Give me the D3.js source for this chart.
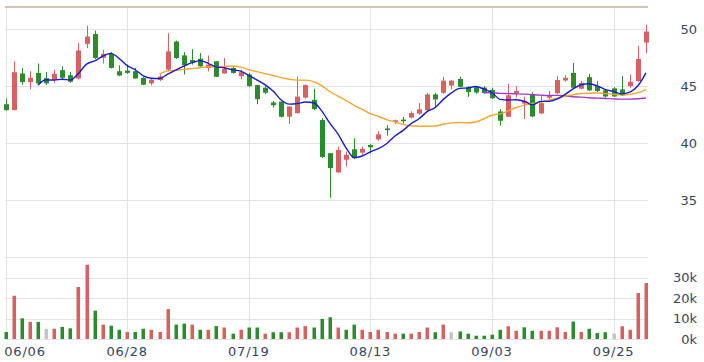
<!DOCTYPE html>
<html>
<head>
<meta charset="utf-8">
<script src="https://cdn.jsdelivr.net/npm/d3@7"></script>
<style>
  body { margin: 0; background: #fff; }
  text { font-family: "DejaVu Sans", sans-serif; }
</style>
</head>
<body>
<div id="chart"></div>
<script>
// trading days (MM/DD)
const dates = [
  "06/06","06/10","06/11","06/12","06/13","06/14","06/17","06/18","06/19","06/20",
  "06/21","06/24","06/25","06/26","06/27","06/28","07/01","07/02","07/03","07/04",
  "07/05","07/08","07/09","07/10","07/11","07/12","07/15","07/16","07/17","07/18",
  "07/19","07/22","07/23","07/24","07/25","07/26","07/29","07/30","07/31","08/01",
  "08/02","08/05","08/06","08/07","08/12","08/13","08/14","08/15","08/16","08/19",
  "08/20","08/21","08/22","08/23","08/26","08/27","08/28","08/29","08/30","09/02",
  "09/03","09/04","09/05","09/06","09/09","09/10","09/11","09/12","09/16","09/17",
  "09/18","09/19","09/20","09/23","09/24","09/25","09/26","09/27","09/30","10/01"
];
const tickDates = ["06/06", "06/28", "07/19", "08/13", "09/03", "09/25"];

const open = [
  43.42, 42.90, 46.12, 45.36, 46.17, 45.71, 45.54, 46.41, 45.97, 45.68,
  48.72, 49.59, 47.50, 47.83, 46.32, 46.38, 46.32, 45.74, 45.25, 45.55,
  46.46, 48.93, 47.71, 47.30, 47.42, 46.60, 47.19, 46.12, 46.60, 45.88,
  46.03, 45.10, 44.87, 43.57, 43.65, 42.32, 42.64, 44.00, 43.80, 42.03,
  39.12, 37.43, 38.54, 39.46, 39.17, 39.84, 40.33, 41.29, 41.87, 42.07,
  42.25, 42.59, 42.88, 44.28, 44.42, 45.06, 45.64, 44.91, 44.91, 44.88,
  44.68, 42.78, 42.32, 44.38, 43.48, 44.29, 42.61, 44.00, 44.38, 45.51,
  46.17, 44.78, 45.80, 45.01, 44.64, 44.81, 44.72, 45.01, 45.45, 48.84
];
const high = [
  43.91, 47.19, 46.61, 46.32, 46.99, 46.26, 46.46, 46.75, 46.26, 48.78,
  50.32, 49.88, 48.20, 48.00, 46.84, 46.90, 46.61, 45.80, 45.65, 46.05,
  49.65, 49.00, 48.00, 48.26, 47.91, 47.70, 47.20, 47.48, 46.75, 46.46,
  46.17, 45.10, 45.00, 43.70, 43.65, 43.22, 45.83, 45.16, 44.78, 42.20,
  39.12, 39.70, 39.26, 40.42, 39.70, 39.90, 41.06, 41.58, 42.07, 42.30,
  42.80, 43.52, 44.42, 44.42, 45.84, 45.55, 45.84, 45.00, 45.00, 45.00,
  44.87, 42.99, 45.22, 45.01, 44.09, 44.49, 44.14, 44.58, 45.88, 45.97,
  47.04, 45.45, 46.09, 45.45, 44.72, 44.93, 45.88, 46.03, 48.55, 50.38
];
const low = [
  42.85, 42.90, 45.13, 44.72, 45.16, 45.10, 45.30, 45.54, 45.30, 45.60,
  48.35, 47.39, 47.00, 46.55, 45.88, 46.09, 45.65, 45.10, 45.07, 45.45,
  46.30, 47.40, 46.03, 46.90, 46.70, 46.30, 45.80, 46.10, 46.10, 45.60,
  44.96, 43.42, 44.30, 43.13, 42.26, 41.68, 42.60, 43.90, 42.90, 38.70,
  35.20, 37.40, 37.96, 38.60, 38.97, 39.10, 40.22, 40.65, 41.67, 41.73,
  42.16, 42.50, 42.83, 43.17, 44.33, 44.71, 44.91, 44.04, 44.33, 44.35,
  43.90, 41.54, 42.30, 44.00, 42.12, 42.26, 42.55, 43.86, 44.29, 45.39,
  44.78, 44.72, 44.58, 44.49, 44.00, 44.06, 44.14, 44.87, 45.40, 47.91
];
const close = [
  42.90, 46.23, 45.36, 45.74, 45.25, 45.25, 46.09, 45.74, 45.39, 48.14,
  49.36, 47.48, 47.85, 46.61, 45.94, 46.17, 45.68, 45.13, 45.57, 45.85,
  48.06, 47.48, 46.84, 47.10, 46.75, 46.90, 45.83, 46.52, 46.17, 46.23,
  45.01, 43.86, 44.43, 43.33, 42.32, 43.22, 44.09, 45.10, 42.99, 38.78,
  37.81, 39.41, 38.97, 38.68, 39.49, 39.64, 40.77, 41.14, 42.01, 41.93,
  42.65, 42.97, 44.28, 43.84, 45.49, 45.49, 44.95, 44.48, 44.45, 44.40,
  43.94, 41.97, 44.20, 44.58, 43.71, 42.35, 43.51, 44.20, 45.54, 45.74,
  44.87, 45.30, 44.64, 44.58, 44.10, 44.10, 44.20, 45.39, 47.39, 49.80
];
// volume in thousands of shares
const volume = [
  3.4, 21.1, 10.1, 8.3, 8.3, 5.0, 5.0, 5.9, 5.2, 25.4,
  36.2, 13.8, 7.0, 6.5, 4.5, 3.4, 3.4, 5.0, 4.5, 3.4,
  14.6, 7.0, 7.5, 7.0, 4.5, 4.5, 6.3, 5.6, 2.6, 4.5,
  5.6, 5.6, 2.6, 3.3, 3.3, 3.3, 5.6, 6.3, 5.6, 9.8,
  10.6, 5.6, 4.5, 7.0, 4.5, 3.4, 4.5, 3.4, 2.6, 2.6,
  2.6, 3.4, 5.6, 3.3, 7.0, 3.3, 3.7, 2.6, 1.6, 1.6,
  2.1, 4.5, 6.2, 4.0, 5.7, 4.0, 4.0, 4.0, 5.7, 3.4,
  8.5, 3.4, 5.0, 2.9, 3.3, 2.6, 6.2, 4.5, 22.4, 27.3
];
const priceTicks = [35, 40, 45, 50];
const volumeTicks = [0, 10, 20, 30];
const maPeriods = [5, 20, 60];

const width = 704, height = 362;
const plot = { left: 5, right: 648, top: 7, mid: 257, bottom: 339 };

const upColor = "#d8605f", downColor = "#2a8c2a", flatColor = "#c4c4c4";
const maColors = { 5: "#1a1ad0", 20: "#f5a52a", 60: "#a03cc8" };

const data = dates.map((d, i) => ({
  date: d, open: open[i], high: high[i], low: low[i], close: close[i], volume: volume[i]
}));

const svg = d3
  .select("#chart")
  .append("svg")
  .attr("width", width)
  .attr("height", height);

const x = d3.scalePoint().domain(dates).range([5.5, 646]);

const y = d3.scaleLinear().domain([30, 50]).range([plot.mid, 29.3]);
const yVol = d3.scaleLinear().domain([0, 40]).range([plot.bottom, plot.mid]);

// grid
const grid = svg.append("g").attr("stroke", "#e3e3e3").attr("stroke-width", 1);
grid.selectAll(".hp")
  .data([30, ...priceTicks])
  .join("line")
  .attr("x1", plot.left).attr("x2", plot.right)
  .attr("y1", (d) => Math.round(y(d)) + 0.5).attr("y2", (d) => Math.round(y(d)) + 0.5);
grid.selectAll(".hv")
  .data(volumeTicks)
  .join("line")
  .attr("x1", plot.left).attr("x2", plot.right)
  .attr("y1", (d) => Math.round(yVol(d)) + 0.5).attr("y2", (d) => Math.round(yVol(d)) + 0.5);
grid.selectAll(".v")
  .data(tickDates)
  .join("line")
  .attr("x1", (d) => Math.round(x(d)) + 0.5).attr("x2", (d) => Math.round(x(d)) + 0.5)
  .attr("y1", plot.top).attr("y2", plot.bottom);

// top border
svg.append("line")
  .attr("x1", plot.left).attr("x2", plot.right)
  .attr("y1", plot.top).attr("y2", plot.top)
  .attr("stroke", "#c2b29c").attr("stroke-width", 1.5);

// candles
const candleColor = (d) => (d.close >= d.open ? upColor : downColor);
const candles = svg.append("g").selectAll("g").data(data).join("g");
candles.append("line")
  .attr("x1", (d) => Math.round(x(d.date)) + 0.5)
  .attr("x2", (d) => Math.round(x(d.date)) + 0.5)
  .attr("y1", (d) => y(d.high))
  .attr("y2", (d) => y(d.low))
  .attr("stroke", candleColor);
candles.append("rect")
  .attr("x", (d) => Math.round(x(d.date)) - 2)
  .attr("width", 5)
  .attr("y", (d) => y(Math.max(d.open, d.close)))
  .attr("height", (d) => Math.max(1, Math.abs(y(d.open) - y(d.close))))
  .attr("fill", candleColor);

// moving averages of close
const line = d3.line()
  .defined((d) => d.v != null)
  .x((d) => x(d.date))
  .y((d) => y(d.v))
  .curve(d3.curveMonotoneX);

maPeriods.slice().reverse().forEach((p) => {
  const ma = data.map((d, i) => ({
    date: d.date,
    v: i >= p - 1 ? d3.mean(close.slice(i - p + 1, i + 1)) : null
  }));
  svg.append("path")
    .datum(ma)
    .attr("fill", "none")
    .attr("stroke", maColors[p])
    .attr("stroke-width", 1.4)
    .attr("d", line);
});

// volume bars, coloured by change from previous close
const volColor = (d, i) => {
  if (i === 0) return downColor;
  const prev = close[i - 1];
  if (Math.abs(d.close - prev) < 0.001) return flatColor;
  return d.close > prev ? upColor : downColor;
};
svg.append("g")
  .selectAll("rect")
  .data(data)
  .join("rect")
  .attr("x", (d) => Math.round(x(d.date)) - 1.5)
  .attr("width", 3.5)
  .attr("y", (d) => yVol(d.volume))
  .attr("height", (d) => yVol(0) - yVol(d.volume))
  .attr("fill", volColor);

// axis labels
const labelColor = "#34465c";
svg.append("g")
  .selectAll("text")
  .data(priceTicks)
  .join("text")
  .attr("x", 697)
  .attr("y", (d) => y(d))
  .attr("dy", "0.36em")
  .attr("text-anchor", "end")
  .attr("font-size", "13px")
  .attr("fill", labelColor)
  .text((d) => d);

svg.append("g")
  .selectAll("text")
  .data(volumeTicks)
  .join("text")
  .attr("x", 697)
  .attr("y", (d) => yVol(d))
  .attr("dy", "0.36em")
  .attr("text-anchor", "end")
  .attr("font-size", "13px")
  .attr("fill", labelColor)
  .text((d) => d + "k");

svg.append("g")
  .selectAll("text")
  .data(tickDates)
  .join("text")
  .attr("x", (d) => Math.max(x(d), 25))
  .attr("y", 356)
  .attr("text-anchor", "middle")
  .attr("font-size", "13px")
  .attr("letter-spacing", "0.8px")
  .attr("fill", labelColor)
  .text((d) => d);
</script>
</body>
</html>
